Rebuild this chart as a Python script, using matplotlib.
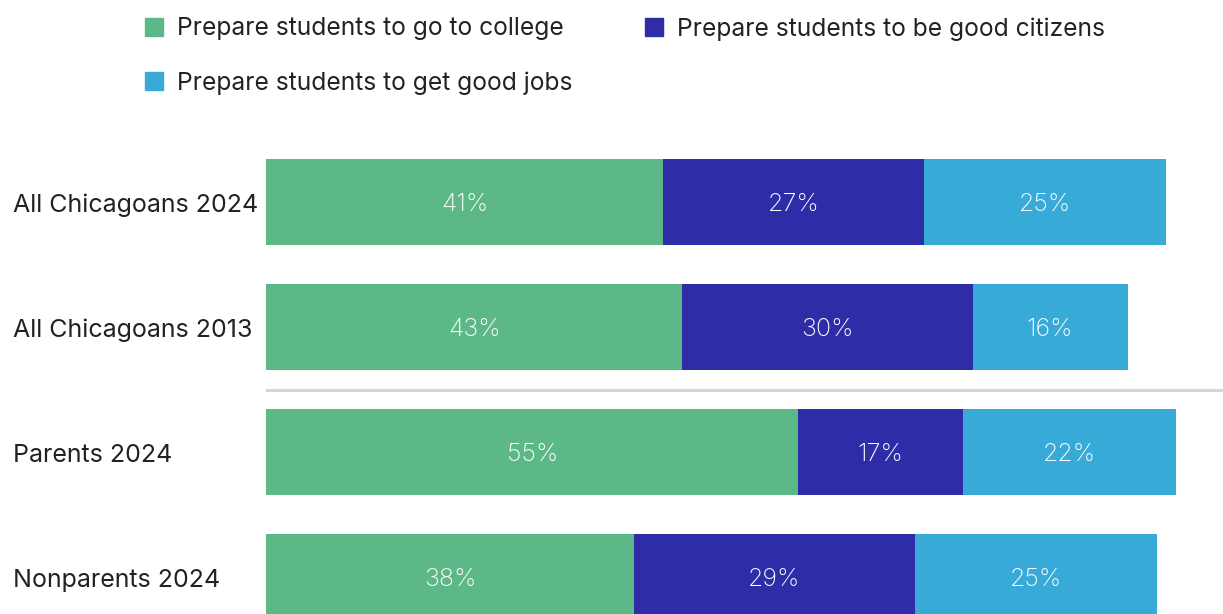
import matplotlib.pyplot as plt
from matplotlib.patches import Rectangle

groups = ["All Chicagoans 2024", "All Chicagoans 2013", "Parents 2024", "Nonparents 2024"]
series_names = [
    "Prepare students to go to college",
    "Prepare students to be good citizens",
    "Prepare students to get good jobs",
]
college = [41, 43, 55, 38]
citizens = [27, 30, 17, 29]
jobs = [25, 16, 22, 25]

colors = ["#5cb887", "#2e2ca6", "#38aad8"]
W, H = 1223, 614

plt.rcParams["font.family"] = ["Inter", "DejaVu Sans"]

fig = plt.figure(figsize=(W / 100, H / 100), dpi=100)
ax = fig.add_axes([266 / W, 0, 1 - 266 / W, 1])

ax.set_xlim(0, (W - 266) / 9.68)
ax.set_ylim((H - 202) / 125, -202 / 125)
ax.axis("off")

rows = range(len(groups))
left = [0] * len(groups)
for values, color in zip([college, citizens, jobs], colors):
    bars = ax.barh(rows, values, left=left, height=0.69, color=color)
    for b, v in zip(bars, values):
        ax.text(b.get_x() + b.get_width() / 2, b.get_y() + b.get_height() / 2 + 0.02,
                f"{v}%", color="white", ha="center", va="center",
                fontsize=18, fontweight="light")
    left = [l + v for l, v in zip(left, values)]

# divider between the all-Chicagoans rows and the parent split
ax.axhline(1.5, color="#d6d6d6", lw=2.2)

for i, g in enumerate(groups):
    fig.text(13 / W, 1 - (205 + 125 * i) / H, g, ha="left", va="center",
             fontsize=18, color="#222222")

# legend drawn by hand in figure pixels
legend_pos = [(145, 27), (645, 27), (145, 81)]
for (x, y), name, color in zip(legend_pos, series_names, colors):
    fig.add_artist(Rectangle((x / W, 1 - (y + 9) / H), 18 / W, 18 / H,
                             transform=fig.transFigure, color=color))
    fig.text((x + 32) / W, 1 - (y + 2) / H, name, ha="left", va="center",
             fontsize=17.7, color="#222222")

fig.savefig("out.png", dpi=100)
